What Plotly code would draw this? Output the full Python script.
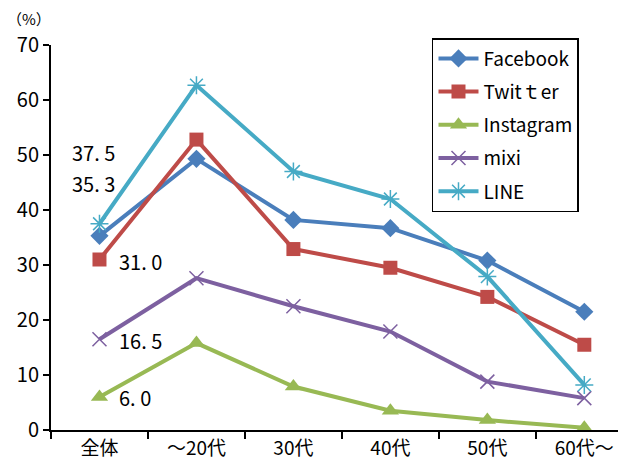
import plotly.graph_objects as go

categories = ["全体", "～20代", "30代", "40代", "50代", "60代～"]
facebook = [35.3, 49.3, 38.2, 36.7, 30.8, 21.5]
twitter = [31.0, 52.8, 32.9, 29.5, 24.2, 15.5]
instagram = [6.0, 15.8, 7.9, 3.5, 1.8, 0.4]
mixi = [16.5, 27.6, 22.5, 17.9, 8.8, 5.8]
line = [37.5, 62.7, 47.0, 42.0, 27.9, 8.2]
y_ticks = [0, 10, 20, 30, 40, 50, 60, 70]
series_names = ["Facebook", "Twitｔer", "Instagram", "mixi", "LINE"]

FONT = "Liberation Sans Narrow, Noto Sans CJK JP"
CJK = "Noto Sans CJK JP"

series = [
    (series_names[0], facebook, "#4A7EBB", dict(symbol="diamond", size=14)),
    (series_names[1], twitter, "#BE4B48", dict(symbol="square", size=14)),
    (series_names[2], instagram, "#98B954", dict(symbol="triangle-up", size=15)),
    (series_names[3], mixi, "#7D60A0", dict(symbol="x-thin-open", size=14, line=dict(width=1.5, color="#7D60A0"))),
    (series_names[4], line, "#46AAC5", dict(symbol="asterisk-open", size=15, line=dict(width=1.5, color="#46AAC5"))),
]

fig = go.Figure()
for i, (name, vals, color, mk) in enumerate(series):
    mk = dict(mk)
    mk["color"] = color
    fig.add_trace(go.Scatter(
        x=categories, y=vals, name=name, mode="lines+markers", legendgroup=f"g{i}",
        line=dict(color=color, width=4), marker=mk,
    ))

# value labels at 全体 (text as shown in the reference)
value_labels = [
    ("37. 5", 50.5, -6),
    ("35. 3", 44.9, -6),
    ("31. 0", 30.7, 41),
    ("16. 5", 16.2, 41),
    ("6. 0", 6.0, 36),
]
for txt, yv, xs in value_labels:
    fig.add_annotation(x=0, y=yv, text=txt, showarrow=False, xshift=xs,
                       font=dict(size=20, family=CJK, color="black"))

fig.add_annotation(x=-0.078, y=1.068, xref="paper", yref="paper", text="（%）",
                   showarrow=False, xanchor="left", yanchor="middle", borderpad=0,
                   font=dict(size=15, family=CJK, color="black"))

fig.update_layout(
    width=618, height=463,
    margin=dict(l=43, r=0, t=37, b=41),
    paper_bgcolor="white", plot_bgcolor="white",
    font=dict(family=FONT, size=20, color="black"),
    legend=dict(
        x=0.6626, y=1.018, xanchor="left", yanchor="top",
        bordercolor="black", borderwidth=1.5, bgcolor="white",
        font=dict(size=19, family=CJK), tracegroupgap=5.5,
        itemwidth=40,
    ),
    xaxis=dict(
        type="category", range=[-0.5, 5.43],
        showline=True, linecolor="black", linewidth=2,
        ticks="outside", tickson="boundaries", ticklen=7, tickcolor="black", tickwidth=2,
        showgrid=False, tickfont=dict(size=19, family=CJK),
    ),
    yaxis=dict(
        range=[0, 70], tickvals=y_ticks,
        showline=True, linecolor="black", linewidth=2,
        ticks="outside", ticklen=6, tickcolor="black", tickwidth=2,
        showgrid=False, zeroline=False, tickfont=dict(size=20, family=FONT),
    ),
    showlegend=True,
)
fig.write_html("out.html")
